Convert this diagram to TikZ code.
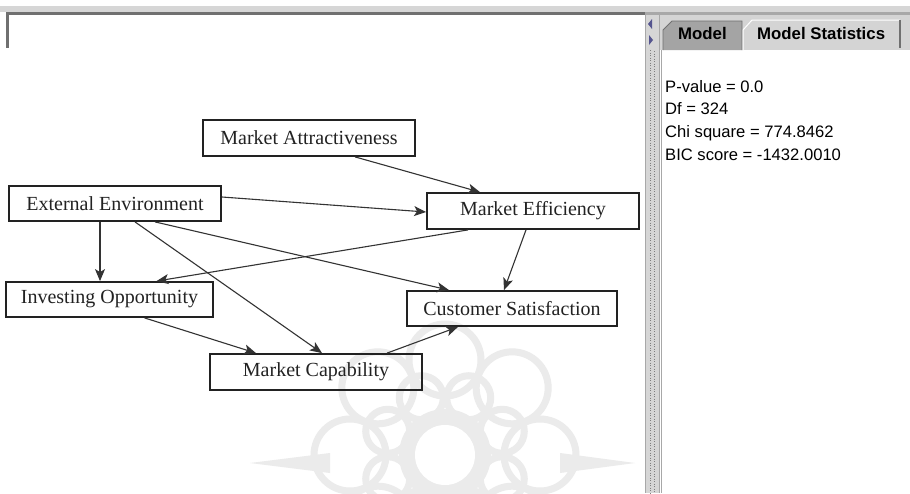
\documentclass[tikz,border=0pt]{standalone}
\usepackage{fontspec}
\setmainfont{Liberation Serif}
\setsansfont{Liberation Sans}
\usetikzlibrary{arrows.meta,calc}
\definecolor{boxline}{HTML}{222222}
\definecolor{arrline}{HTML}{333333}
\definecolor{guiLight}{HTML}{D6D6D6}
\definecolor{guiMid}{HTML}{A8A8A8}
\definecolor{guiDark}{HTML}{707070}
\definecolor{tabDark}{HTML}{A4A4A4}
\definecolor{tabLight}{HTML}{D4D4D4}
\definecolor{wmark}{HTML}{EBEBEB}
\definecolor{divblue}{HTML}{55558F}
\tikzset{
  varbox/.style={draw=boxline, line width=1.8pt, fill=none, inner sep=0pt,
    font=\fontsize{20}{24}\selectfont, text=boxline},
  conn/.style={draw=arrline, line width=1.1pt,
    -{Stealth[length=12pt,width=10pt,inset=3pt]}},
  stattext/.style={anchor=base west, inner sep=0pt, font=\sffamily\fontsize{16.6}{19}\selectfont},
  tabtext/.style={anchor=base west, inner sep=0pt, font=\sffamily\bfseries\fontsize{16.8}{19}\selectfont},
}
\begin{document}
\begin{tikzpicture}[x=1pt,y=-1pt]
\useasboundingbox (0,0) rectangle (910,493);
\fill[white] (0,0) rectangle (910,493);
% watermark
\coordinate (wc) at (445,455);
\begin{scope}
\clip (9,48) rectangle (645,493);
\foreach \a in {0,45,...,315}{
  \draw[wmark, line width=7pt] ($(wc)+(\a:95)$) circle (36);
}
\foreach \a in {22.5,67.5,...,337.5}{
  \draw[wmark, line width=7pt] ($(wc)+(\a:62)$) circle (22);
}
\fill[wmark] (wc) circle (46);
\fill[white] (wc) circle (30);
\fill[wmark] ($(wc)+(-195,8)$) -- ($(wc)+(-115,-2)$) -- ($(wc)+(-115,18)$) -- cycle;
\fill[wmark] ($(wc)+(190,8)$) -- ($(wc)+(115,-2)$) -- ($(wc)+(115,18)$) -- cycle;
\end{scope}
% top chrome
\fill[guiLight] (0,6) rectangle (910,12);
\fill[guiDark] (6,12) rectangle (645,15);
\fill[guiMid] (645,12) rectangle (910,15);
\fill[guiDark] (6,12) rectangle (9,48);
% divider
\fill[guiLight] (645,15) rectangle (660,493);
\draw[guiMid, line width=1pt] (645.5,15) -- (645.5,493);
\draw[guiMid, line width=1pt] (659.5,15) -- (659.5,493);
\draw[gray, line width=1pt, dash pattern=on 1pt off 1.5pt] (650,50) -- (650,493);
\draw[gray, line width=1pt, dash pattern=on 1pt off 1.5pt] (654,51) -- (654,493);
\fill[divblue] (648,24) -- (652,19) -- (652,29) -- cycle;
\fill[divblue] (653,40) -- (649,35) -- (649,45) -- cycle;
% right pane
\fill[tabLight] (660,15) rectangle (910,50);
\fill[white] (661,50) rectangle (910,493);
\draw[guiMid, line width=1pt] (661.5,50) -- (661.5,493);
\filldraw[fill=tabDark, draw=guiDark, line width=0.8pt] (663,50) -- (663,30) -- (672,21) -- (742,21) -- (742,50);
\filldraw[fill=tabLight, draw=white, line width=1pt] (743,50) -- (743,30) -- (752,20) -- (900,20);
\draw[guiDark, line width=1.5pt] (900,20) -- (900,48);
\node[tabtext] (tabm) at (678,39) {Model};
\node[tabtext] (tabs) at (757,39) {Model Statistics};
\node[stattext] (s1) at (665,92) {P-value = 0.0};
\node[stattext] (s2) at (665,114.5) {Df = 324};
\node[stattext] (s3) at (665,137) {Chi square = 774.8462};
\node[stattext] (s4) at (665,160) {BIC score = -1432.0010};
% nodes
\node[varbox, minimum width=212pt, minimum height=36pt] (ma) at (309,138) {Market Attractiveness};
\node[varbox, minimum width=212pt, minimum height=35pt] (ee) at (115,203.5) {External Environment};
\node[varbox, minimum width=207pt, minimum height=35pt] (io) at (109.5,299.5) {Investing Opportunity};
\node[varbox, minimum width=212pt, minimum height=36pt] (mc) at (316,372) {Market Capability};
\node[varbox, minimum width=212pt, minimum height=36pt] (me) at (533,211) {Market Efficiency};
\node[varbox, minimum width=210pt, minimum height=35pt] (cs) at (512,308.5) {Customer Satisfaction};
% connectors
\draw[conn] ([xshift=46pt]ma.south) -- ([xshift=-53pt]me.north);
\draw[conn] ([yshift=6.5pt]ee.east) -- ([yshift=-1pt]me.west);
\draw[conn] ([xshift=-15pt]ee.south) -- ([xshift=-15pt]ee.south |- io.north);
\draw[conn] ([xshift=20pt]ee.south) -- ([xshift=6pt]mc.north);
\draw[conn] ([xshift=40pt]ee.south) -- ([xshift=-63pt]cs.north);
\draw[conn] ([xshift=-65pt]me.south) -- ([xshift=47pt]io.north);
\draw[conn] ([xshift=-7pt]me.south) -- ([xshift=-8pt]cs.north);
\draw[conn] ([xshift=35pt]io.south) -- ([xshift=-60pt]mc.north);
\draw[conn] ([xshift=71pt]mc.north) -- ([xshift=-54pt]cs.south);
\end{tikzpicture}
\end{document}
